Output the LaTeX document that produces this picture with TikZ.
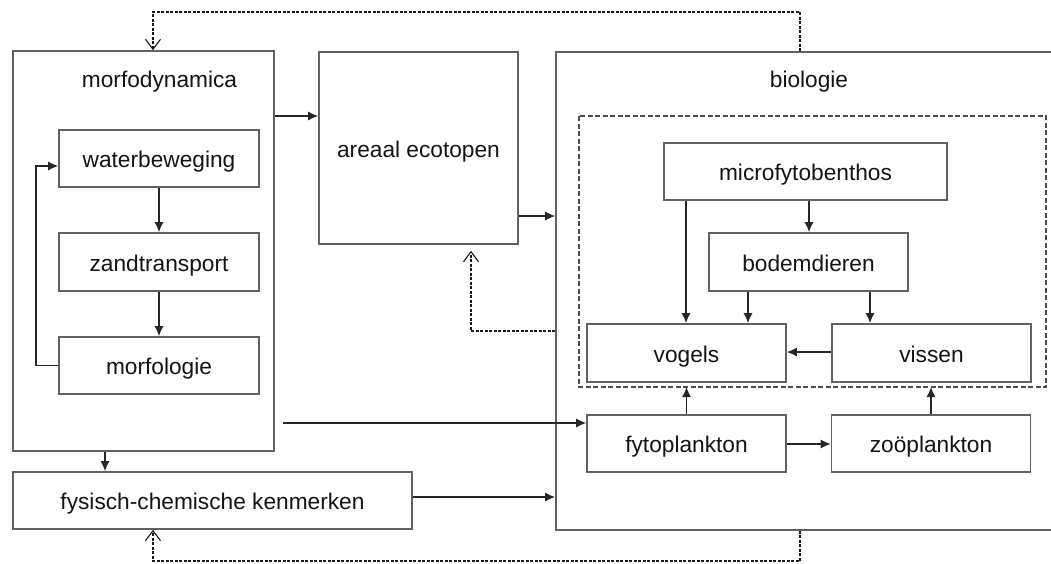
\documentclass[tikz,border=0pt]{standalone}
\usepackage{fontspec}
\setmainfont{Liberation Sans}
\usetikzlibrary{arrows.meta}
\begin{document}
\begin{tikzpicture}[x=1pt,y=-1pt,
  font=\fontsize{22.7}{26}\selectfont,
  box/.style={draw=black!62, line width=1.6pt, fill=white, rectangle, inner sep=0pt, text=black!92, text height=18pt, text depth=0pt},
  lbl/.style={inner sep=0pt, anchor=base, text=black!92},
  arr/.style={draw=black!85, line width=1.4pt, -{Latex[length=10pt,width=9pt]}},
  dashline/.style={draw=black!90, line width=1.2pt, dash pattern=on 3pt off 1.5pt},
  openarr/.style={dashline, -{Straight Barb[length=10pt,width=15pt,line width=1.1pt]}},
  innergrp/.style={draw=black!70, line width=1.3pt, dash pattern=on 5pt off 2.5pt}]
\clip (0,0) rectangle (1051,563);
\fill[white] (0,0) rectangle (1051,563);
% outer boxes
\node[box, minimum width=261pt, minimum height=400pt] (morf) at (143.5,251) {};
\node[lbl] (morflbl) at (159.5,87) {morfodynamica};
\node[box, minimum width=199pt, minimum height=192pt] (areaal) at (418.5,148) {areaal ecotopen};
\node[box, minimum width=510pt, minimum height=478pt] (bio) at (811,291) {};
\node[lbl] (biolbl) at (809,87) {biologie};
\node[box, minimum width=399pt, minimum height=57pt] (fys) at (212.5,500.5) {fysisch-chemische kenmerken};
% inner morfodynamica boxes
\node[box, minimum width=200pt, minimum height=57pt] (water) at (159,158.5) {waterbeweging};
\node[box, minimum width=200pt, minimum height=58pt] (zand) at (159,262) {zandtransport};
\node[box, minimum width=200pt, minimum height=57pt] (morfol) at (159,365.5) {morfologie};
% biology dashed group
\coordinate (dgTL) at (579,116);
\coordinate (dgBR) at (1046,387);
\draw[innergrp] (dgTL) rectangle (dgBR);
\node[box, minimum width=283pt, minimum height=57pt] (micro) at (805.5,171.5) {microfytobenthos};
\node[box, minimum width=199pt, minimum height=58pt] (bodem) at (808.5,262) {bodemdieren};
\node[box, minimum width=199pt, minimum height=58pt] (vogels) at (686.5,353) {vogels};
\node[box, minimum width=199pt, minimum height=58pt] (vissen) at (931.5,353) {vissen};
\node[box, minimum width=199pt, minimum height=57pt] (fyto) at (686.5,443.5) {fytoplankton};
\node[box, minimum width=199pt, minimum height=57pt] (zoo) at (931,443.5) {zoöplankton};
% morfodynamica internal arrows
\draw[arr] (water.south) -- (zand.north);
\draw[arr] (zand.south) -- (morfol.north);
\draw[arr] (morfol.west) -- (36,365.5) -- (36,166) -- (water.west |- 0,166);
% outer arrows
\draw[arr] (morf.east |- 0,116) -- (areaal.west |- 0,116);
\coordinate (fstart) at (283,423);
\draw[arr] (fstart) -- (fyto.west |- fstart);
\draw[arr] (morf.south -| 105,0) -- (fys.north -| 105,0);
\draw[arr] (fys.east |- 0,497) -- (bio.west |- 0,497);
\draw[arr] (areaal.east |- 0,216) -- (bio.west |- 0,216);
% biology arrows
\draw[arr] (micro.south -| 686,0) -- (vogels.north -| 686,0);
\draw[arr] (micro.south -| 809,0) -- (bodem.north -| 809,0);
\draw[arr] (bodem.south -| 748,0) -- (vogels.north -| 748,0);
\draw[arr] (bodem.south -| 870,0) -- (vissen.north -| 870,0);
\draw[arr] (vissen.west |- 0,352) -- (vogels.east |- 0,352);
\draw[arr] (fyto.north) -- (dgBR -| fyto.north);
\draw[arr] (zoo.north) -- (dgBR -| zoo.north);
\draw[arr] (fyto.east |- 0,444) -- (zoo.west |- 0,444);
% dashed feedbacks
\draw[openarr] (bio.north -| 800,0) -- (800,12) -- (153,12) -- (morf.north -| 153,0);
\draw[openarr, shorten >=6pt] (bio.west |- 0,331) -- (471,331) -- (areaal.south -| 471,0);
\draw[openarr] (bio.south -| 800,0) -- (800,561) -- (153,561) -- (fys.south -| 153,0);
\end{tikzpicture}
\end{document}
